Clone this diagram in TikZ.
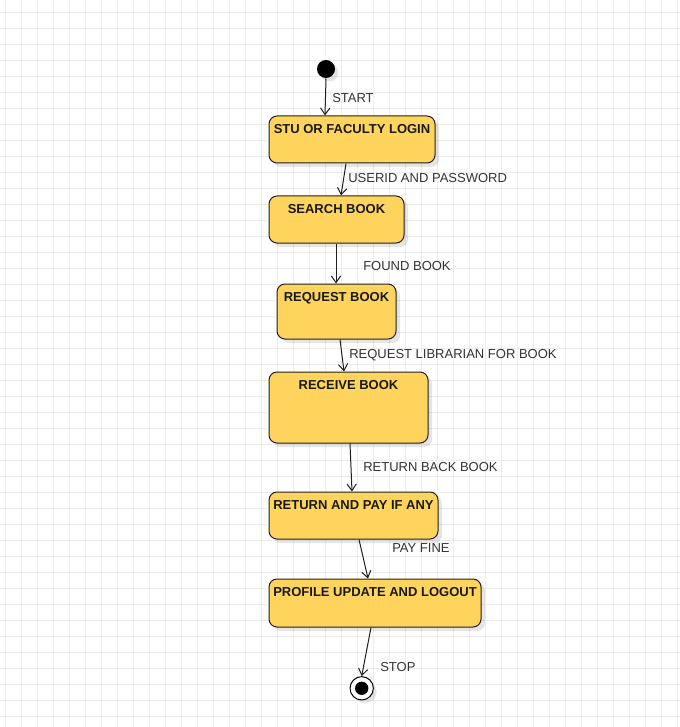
\documentclass[tikz,border=0pt]{standalone}
\usepackage{fontspec}
\setmainfont{Liberation Sans}
\usetikzlibrary{arrows.meta,shadows,positioning}
\definecolor{gridc}{HTML}{EDEDED}
\definecolor{statefill}{HTML}{FFD45C}
\definecolor{edgec}{HTML}{1F1F1F}
\definecolor{labelc}{HTML}{333333}
\tikzset{
  stbox/.style={draw=edgec, line width=0.75pt, fill=statefill, rounded corners=6pt,
    inner sep=0pt, drop shadow={shadow xshift=3pt, shadow yshift=-3pt, fill=black, opacity=0.10}},
  sttext/.style={font=\fontsize{9.75pt}{11pt}\selectfont\bfseries, text=black!90, inner sep=0pt},
  edgelbl/.style={font=\fontsize{9.75pt}{11pt}\selectfont, text=labelc, inner sep=0pt, anchor=base west},
  conn/.style={draw=edgec, line width=0.75pt, -{Straight Barb[length=5pt,width=7pt]}},
}
\begin{document}
\begin{tikzpicture}[x=0.75pt,y=-0.75pt]
\useasboundingbox (0,0) rectangle (680,727);
\fill[white] (0,0) rectangle (680,727);
% grid
\foreach \gx in {5,21,...,680} {\draw[gridc, line width=0.75pt] (\gx,0) -- (\gx,727);}
\foreach \gy in {12.33,28.33,...,727} {\draw[gridc, line width=0.75pt] (0,\gy) -- (680,\gy);}

% start / end
\node[circle, fill=black, minimum size=13.5pt, inner sep=0pt,
  drop shadow={shadow xshift=2.5pt, shadow yshift=-2.5pt, fill=black, opacity=0.10}] (start) at (326,69) {};
\node[circle, draw=black, line width=0.75pt, fill=white, minimum size=17.5pt, inner sep=0pt,
  drop shadow={shadow xshift=2.5pt, shadow yshift=-2.5pt, fill=black, opacity=0.10}] (stop) at (361.7,688.3) {};
\node[circle, fill=black, minimum size=10pt, inner sep=0pt] (stopdot) at (stop.center) {};

% states
\node[stbox, minimum width={166*0.75pt}, minimum height={47*0.75pt},
  label={[sttext, anchor=base, yshift={-17.6*0.75pt}]north:STU OR FACULTY LOGIN}] (login) at (352,139.5) {};
\node[stbox, minimum width={135*0.75pt}, minimum height={47*0.75pt},
  label={[sttext, anchor=base, yshift={-17.6*0.75pt}]north:SEARCH BOOK}] (search) at (336.5,219.5) {};
\node[stbox, minimum width={119*0.75pt}, minimum height={55*0.75pt},
  label={[sttext, anchor=base, yshift={-17.6*0.75pt}]north:REQUEST BOOK}] (request) at (336.5,311.5) {};
\node[stbox, minimum width={159*0.75pt}, minimum height={71*0.75pt},
  label={[sttext, anchor=base, yshift={-17.6*0.75pt}]north:RECEIVE BOOK}] (receive) at (348.5,407.5) {};
\node[stbox, minimum width={169*0.75pt}, minimum height={47*0.75pt},
  label={[sttext, anchor=base, yshift={-17.6*0.75pt}]north:RETURN AND PAY IF ANY}] (return) at (353.5,515.5) {};
\node[stbox, minimum width={212*0.75pt}, minimum height={48*0.75pt},
  label={[sttext, anchor=base, yshift={-17.6*0.75pt}]north:PROFILE UPDATE AND LOGOUT}] (profile) at (375,603) {};

% connectors
\draw[conn] (start.south) -- ([xshift={-27*0.75pt}]login.north);
\draw[conn] ([xshift={-6*0.75pt}]login.south) -- ([xshift={4.5*0.75pt}]search.north);
\draw[conn] ([xshift={-0.5*0.75pt}]search.south) -- ([xshift={-0.5*0.75pt}]request.north);
\draw[conn] ([xshift={3.5*0.75pt}]request.south) -- ([xshift={-4.5*0.75pt}]receive.north);
\draw[conn] ([xshift={1.5*0.75pt}]receive.south) -- ([xshift={-1.5*0.75pt}]return.north);
\draw[conn] ([xshift={5.5*0.75pt}]return.south) -- ([xshift={-7*0.75pt}]profile.north);
\draw[conn] ([xshift={-4*0.75pt}]profile.south) -- (stop.north);

% edge labels
\node[edgelbl] (lstart) at (332,102.5) {START};
\node[edgelbl] (luser) at (348,182.5) {USERID AND PASSWORD};
\node[edgelbl] (lfound) at (363,270.5) {FOUND BOOK};
\node[edgelbl] (lreq) at (349,358.5) {REQUEST LIBRARIAN FOR BOOK};
\node[edgelbl] (lret) at (363,471.5) {RETURN BACK BOOK};
\node[edgelbl] (lpay) at (392,552.5) {PAY FINE};
\node[edgelbl] (lstop) at (380,671.5) {STOP};
\end{tikzpicture}
\end{document}
